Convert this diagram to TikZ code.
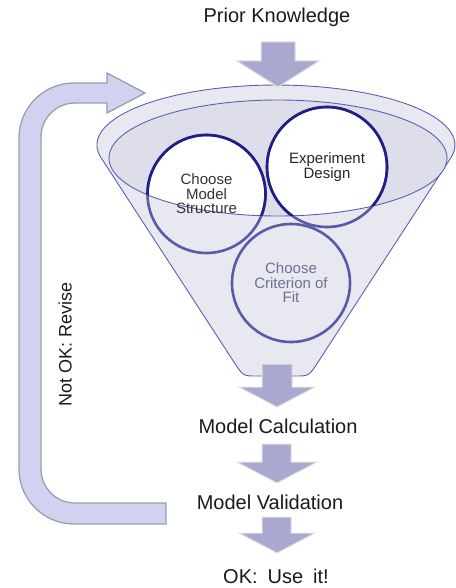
\documentclass[tikz,border=0pt]{standalone}
\usepackage{fontspec}
\setmainfont{Liberation Sans}
\definecolor{funfill}{HTML}{E8E8F1}
\definecolor{innfill}{HTML}{DEDEEA}
\definecolor{funline}{HTML}{5F5FB2}
\definecolor{arrfill}{HTML}{A9A9CF}
\definecolor{loopfill}{HTML}{D2D2F0}
\definecolor{loopline}{HTML}{8DA6A6}
\definecolor{ringdark}{HTML}{1F1F86}
\definecolor{ringlight}{HTML}{5A5AA8}
\definecolor{txtdark}{HTML}{1A1A1A}
\definecolor{txtfit}{HTML}{707092}
\begin{document}
\begin{tikzpicture}[x=1pt,y=1pt,yscale=-1,
  lbl/.style={font=\fontsize{20}{24}\selectfont, text=txtdark, inner sep=0pt, anchor=base},
  circtext/.style={font=\fontsize{15}{14.5}\selectfont, align=center, inner sep=0pt},
  blockarrow/.style={fill=arrfill, draw=black!12, line width=1pt, line join=miter},
  ringlow/.style={draw=ringlight, line width=2.6pt},
  ringhigh/.style={draw=ringdark, line width=2.6pt}]

\useasboundingbox (0,0) rectangle (455,588);

% loop-back block arrow
\draw[fill=loopfill, draw=loopline, line width=1.3pt, line join=miter]
  (145,93) -- (107,113) -- (107,103) -- (75,103)
  arc[start angle=270, end angle=180, radius=34] -- (41,469)
  arc[start angle=180, end angle=90, radius=34] -- (166,503) -- (166,524) -- (74,524)
  arc[start angle=90, end angle=180, radius=55] -- (19,138)
  arc[start angle=180, end angle=270, radius=55] -- (107,83) -- (107,73) -- cycle;

% funnel body
\draw[fill=funfill, draw=funline, line width=0.9pt]
  (101.1,157.8) arc[start angle=167.7, end angle=372.3, x radius=179, y radius=60]
  -- (318.8,360.9) .. controls (309,376) .. (296,376) -- (256,376)
  .. controls (243,376) .. (233.2,360.9) -- cycle;

% inner ellipse (fill)
\fill[innfill] (278,158) ellipse[x radius=169, y radius=58];

% circle fills
\fill[funfill] (206.5,194) circle[radius=59];
\fill[funfill] (327,167) circle[radius=60];
\fill[funfill] (291,283) circle[radius=59];
\begin{scope}
  \clip (278,158) ellipse[x radius=169, y radius=58];
  \fill[white] (206.5,194) circle[radius=59];
  \fill[white] (327,167) circle[radius=60];
\end{scope}

% inner ellipse line
\draw[funline, line width=0.9pt] (278,158) ellipse[x radius=169, y radius=58];

% circle rings
\draw[ringlow] (206.5,194) circle[radius=59];
\draw[ringlow] (327,167) circle[radius=60];
\draw[ringlow] (291,283) circle[radius=59];
\begin{scope}
  \clip (278,158) ellipse[x radius=169, y radius=58];
  \draw[ringhigh] (206.5,194) circle[radius=59];
  \draw[ringhigh] (327,167) circle[radius=60];
\end{scope}

% circle texts
\node[circtext, text=black!80] (cms) at (206.5,194) {Choose\\Model\\Structure};
\node[circtext, text=black!85] (exd) at (327,167) {Experiment\\Design};
\node[circtext, text=txtfit] (ccf) at (291,283) {Choose\\Criterion of\\Fit};

% down block arrows
\draw[blockarrow] (261,42) -- (295,42) -- (295,61) -- (319,61) -- (278,87) -- (237,61) -- (261,61) -- cycle;
\draw[blockarrow] (262,364) -- (292,364) -- (292,387) -- (315,387) -- (277,407) -- (239,387) -- (262,387) -- cycle;
\draw[blockarrow] (262,444) -- (291,444) -- (291,462) -- (317,462) -- (277,483) -- (237,462) -- (262,462) -- cycle;
\draw[blockarrow] (262,517) -- (291,517) -- (291,533) -- (315,533) -- (277,553) -- (239,533) -- (262,533) -- cycle;

% labels
\node[lbl] (prior) at (277,23) {Prior Knowledge};
\node[lbl] (calc) at (278,433) {Model Calculation};
\node[lbl] (valid) at (270,509) {Model Validation};
\node[lbl] (ok) at (276,583) {OK:\hspace{0.5em}Use\hspace{0.5em}it!};
\node[font=\fontsize{18}{20}\selectfont, text=txtdark, rotate=90, anchor=base, inner sep=0pt] (notok) at (71.5,344) {Not OK: Revise};
\end{tikzpicture}
\end{document}
